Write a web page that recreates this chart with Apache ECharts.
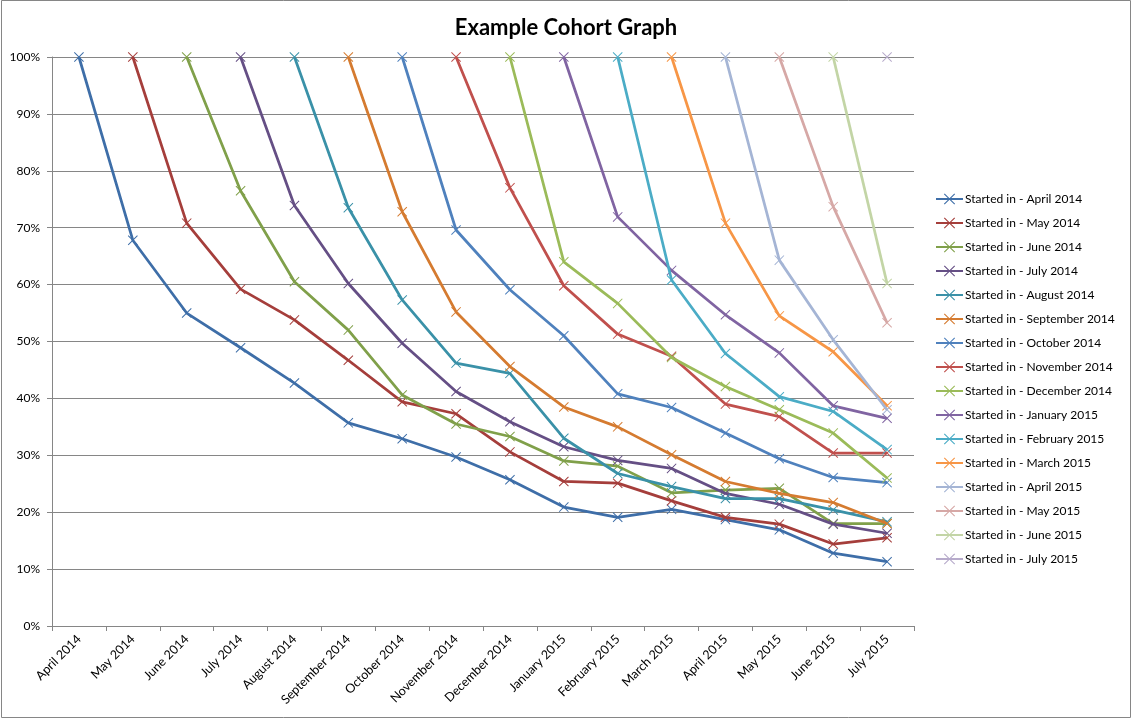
<!DOCTYPE html>
<html>
<head>
<meta charset="utf-8">
<script src="https://cdn.jsdelivr.net/npm/echarts@6/dist/echarts.min.js"></script>
<style>
  html, body { margin: 0; padding: 0; background: #fff; }
  #main { width: 1132px; height: 720px; }
</style>
</head>
<body>
<div id="main"></div>
<script>
// months on the x axis
const months = [
  'April 2014', 'May 2014', 'June 2014', 'July 2014', 'August 2014', 'September 2014',
  'October 2014', 'November 2014', 'December 2014', 'January 2015', 'February 2015',
  'March 2015', 'April 2015', 'May 2015', 'June 2015', 'July 2015'
]

// retention (%) per cohort, starting at the cohort's own month
const apr2014 = [100, 67.8, 55.0, 48.9, 42.7, 35.7, 32.9, 29.7, 25.7, 20.9, 19.1, 20.5, 18.7, 16.9, 12.8, 11.3]
const may2014 = [100, 70.8, 59.2, 53.8, 46.7, 39.4, 37.3, 30.6, 25.4, 25.1, 22.0, 19.1, 17.9, 14.4, 15.5]
const jun2014 = [100, 76.5, 60.5, 52.0, 40.6, 35.5, 33.3, 29.0, 28.1, 23.4, 23.9, 24.2, 18.0, 18.0]
const jul2014 = [100, 73.9, 60.2, 49.7, 41.2, 35.9, 31.5, 29.1, 27.7, 23.3, 21.4, 17.9, 16.3]
const aug2014 = [100, 73.5, 57.3, 46.2, 44.4, 33.0, 26.8, 24.5, 22.4, 22.4, 20.4, 18.3]
const sep2014 = [100, 72.8, 55.2, 45.6, 38.5, 35.0, 30.1, 25.4, 23.3, 21.7, 18.0]
const oct2014 = [100, 69.6, 59.1, 51.0, 40.8, 38.4, 33.9, 29.4, 26.1, 25.2]
const nov2014 = [100, 77.0, 59.8, 51.3, 47.4, 39.0, 36.8, 30.4, 30.4]
const dec2014 = [100, 64.0, 56.7, 47.2, 42.1, 38.0, 33.9, 26.0]
const jan2015 = [100, 71.9, 62.5, 54.7, 48.0, 38.7, 36.5]
const feb2015 = [100, 60.8, 47.9, 40.3, 37.7, 31.0]
const mar2015 = [100, 70.8, 54.5, 48.2, 38.7]
const apr2015 = [100, 64.3, 50.3, 38.0]
const may2015 = [100, 73.7, 53.3]
const jun2015 = [100, 60.2]
const jul2015 = [100]

const cohorts = [apr2014, may2014, jun2014, jul2014, aug2014, sep2014, oct2014, nov2014,
  dec2014, jan2015, feb2015, mar2015, apr2015, may2015, jun2015, jul2015]

const colors = [
  '#3E6EA8', '#A53E3B', '#80A04A', '#654F85', '#3A91A8', '#D57B30',
  '#4F81BD', '#C0504D', '#9BBB59', '#8064A2', '#4BACC6', '#F79646',
  '#A5B5D5', '#D6A8A6', '#C3D5A6', '#B7ABCB'
]

const crossMark = 'path://M0,0.7L0.7,0L5,4.3L9.3,0L10,0.7L5.7,5L10,9.3L9.3,10L5,5.7L0.7,10L0,9.3L4.3,5Z'

const series = cohorts.map((vals, i) => {
  const data = months.map((m, j) => (j < i ? null : vals[j - i]))
  return {
    name: 'Started in - ' + months[i],
    type: 'line',
    data: data,
    symbol: crossMark,
    symbolSize: 10,
    showAllSymbol: true,
    connectNulls: false,
    lineStyle: { width: 2.75, color: colors[i] },
    itemStyle: { color: colors[i] },
    emphasis: { disabled: true },
    z: 2 + i
  }
})

const chartDom = document.getElementById('main')
const myChart = echarts.init(chartDom)
const option = {
  animation: false,
  textStyle: { fontFamily: 'Lato' },
  title: {
    text: 'Example Cohort Graph',
    left: 'center',
    top: 12,
    textStyle: { fontFamily: 'Lato', fontSize: 22, fontWeight: 'bold', color: '#000' }
  },
  legend: {
    orient: 'vertical',
    left: 930,
    top: 188,
    itemWidth: 27,
    itemHeight: 14,
    itemGap: 12,
    textStyle: { fontFamily: 'Lato', fontSize: 12, color: '#000', padding: [0, 0, 0, -3] },
    data: series.map(s => s.name)
  },
  grid: { left: 52, right: 218, top: 57, bottom: 94 },
  xAxis: {
    type: 'category',
    data: months,
    boundaryGap: true,
    axisLine: { lineStyle: { color: '#868686', width: 1 } },
    axisTick: { show: true, length: 5, lineStyle: { color: '#868686' } },
    axisLabel: { rotate: 45, color: '#000', fontSize: 12.5, margin: 11, interval: 0 }
  },
  yAxis: {
    type: 'value',
    min: 0,
    max: 100,
    interval: 10,
    axisLine: { show: true, lineStyle: { color: '#868686', width: 1 } },
    axisTick: { show: true, length: 5, lineStyle: { color: '#868686' } },
    axisLabel: { formatter: '{value}%', color: '#000', fontSize: 12, margin: 12 },
    splitLine: { lineStyle: { color: '#868686', width: 1 } }
  },
  graphic: [{
    type: 'rect',
    shape: { x: 1.5, y: 0.5, width: 1129, height: 717 },
    style: { fill: 'none', stroke: '#868686', lineWidth: 1 },
    silent: true
  }],
  series: series
}
option && myChart.setOption(option)
</script>
</body>
</html>
